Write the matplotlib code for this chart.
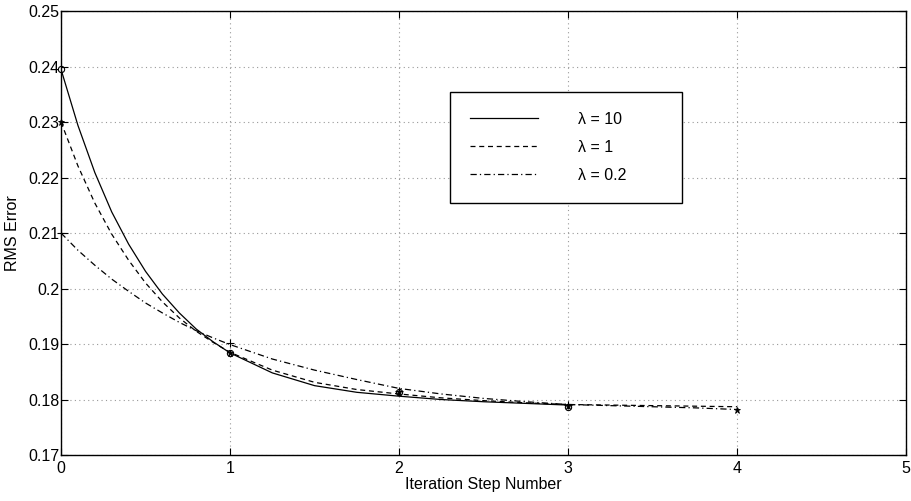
import matplotlib
matplotlib.use("Agg")
import matplotlib.pyplot as plt

# ---------- data ----------
# curve samples (iteration step vs RMS error)
x_curve = [0.0, 0.1, 0.2, 0.3, 0.4, 0.5, 0.6, 0.7, 0.8, 0.9, 1.0,
           1.25, 1.5, 1.75, 2.0, 2.25, 2.5, 2.75, 3.0, 3.25, 3.5, 3.75, 4.0]

rms_lam10 = [0.2395, 0.2294, 0.2209, 0.2138, 0.2080, 0.2031, 0.1990, 0.1956,
             0.1927, 0.1904, 0.1884, 0.1848, 0.1825, 0.1813, 0.1806, 0.1800,
             0.1796, 0.1793, 0.1790]
rms_lam1 = [0.2300, 0.2221, 0.2154, 0.2098, 0.2051, 0.2010, 0.1976, 0.1947,
            0.1923, 0.1903, 0.1885, 0.1853, 0.1831, 0.1818, 0.1810, 0.1803,
            0.1798, 0.1794, 0.1791, 0.1790, 0.1789, 0.1788, 0.1787]
rms_lam02 = [0.2100, 0.2069, 0.2042, 0.2017, 0.1995, 0.1974, 0.1956, 0.1939,
             0.1924, 0.1911, 0.1899, 0.1873, 0.1853, 0.1836, 0.1820, 0.1810,
             0.1802, 0.1796, 0.1791, 0.1789, 0.1787, 0.1785, 0.1782]

# measured points at each iteration step
steps_lam10 = [0, 1, 2, 3]
pts_lam10 = [0.2395, 0.1884, 0.1814, 0.1787]
steps_lam1 = [0, 1, 2, 3, 4]
pts_lam1 = [0.2300, 0.1884, 0.1814, 0.1789, 0.1782]
steps_lam02 = [0, 1, 2, 3]
pts_lam02 = [0.2100, 0.1902, 0.1816, 0.1791]

LABELS = [r"λ = 10", r"λ = 1", r"λ = 0.2"]

x_ticks = [0, 1, 2, 3, 4, 5]
y_ticks = [0.17, 0.18, 0.19, 0.20, 0.21, 0.22, 0.23, 0.24, 0.25]
y_ticklabels = ["0.17", "0.18", "0.19", "0.2", "0.21", "0.22", "0.23", "0.24", "0.25"]

# ---------- style ----------
plt.rcParams['font.family'] = ['Liberation Sans', 'DejaVu Sans']
FS = 11.5
plt.rcParams['font.size'] = FS
LW = 0.9

fig = plt.figure(figsize=(9.11, 5.01), dpi=100)
ax = fig.add_axes([0.067, 0.0918, 0.9276, 0.886])

n10 = len(rms_lam10)
ax.plot(x_curve[:n10], rms_lam10, '-', color='black', lw=LW, label=LABELS[0])
ax.plot(x_curve, rms_lam1, '--', color='black', lw=LW, dashes=(4, 3), label=LABELS[1])
ax.plot(x_curve, rms_lam02, '-.', color='black', lw=LW, dashes=(5, 2.5, 1, 2.5), label=LABELS[2])

ax.plot(steps_lam10, pts_lam10, 'o', ms=4.5, mfc='none', mec='black', mew=0.8, clip_on=False)
ax.plot(steps_lam1, pts_lam1, '*', ms=4.5, color='black', mew=0.6, clip_on=False)
ax.plot(steps_lam02, pts_lam02, '+', ms=6, color='black', mew=0.8, clip_on=False)

ax.set_xlim(0, 5)
ax.set_ylim(0.17, 0.25)
ax.set_xticks(x_ticks)
ax.set_yticks(y_ticks)
ax.set_yticklabels(y_ticklabels)

ax.tick_params(direction='in', length=5, width=0.8, top=True, right=True,
               labelsize=FS)
ax.tick_params(axis='y', pad=1)
ax.tick_params(axis='x', pad=4)
for sp in ax.spines.values():
    sp.set_linewidth(1.0)

ax.grid(True, ls=(0, (1, 3)), color='#999999', lw=0.8)

ax.set_xlabel("Iteration Step Number", labelpad=1)
ax.set_ylabel("RMS Error", labelpad=6)

leg = ax.legend(loc='upper left', bbox_to_anchor=(0.460, 0.5586, 0.275, 0.259),
                mode='expand', borderaxespad=0, borderpad=1.25, labelspacing=0.8,
                handlelength=4.25, handletextpad=2.5, fancybox=False,
                framealpha=1.0, edgecolor='black', fontsize=FS)
leg.get_frame().set_linewidth(1.0)

fig.savefig("out.png", dpi=100, facecolor='white')
